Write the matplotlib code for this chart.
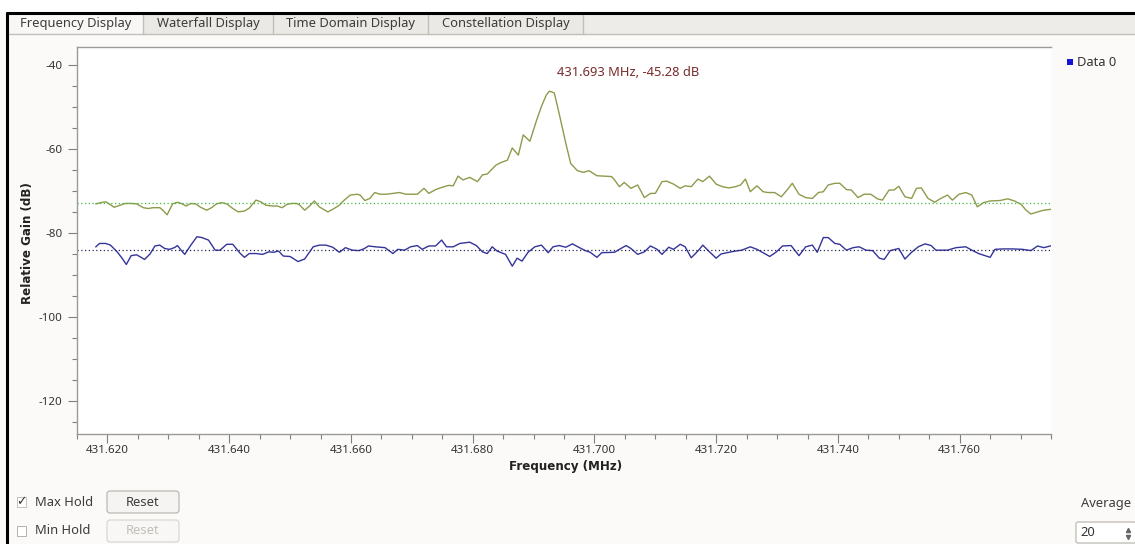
import numpy as np
import matplotlib.pyplot as plt
from matplotlib.patches import Rectangle, FancyBboxPatch

plt.rcParams['font.family'] = ['Noto Sans', 'DejaVu Sans']
plt.rcParams['axes.unicode_minus'] = False

# ---- data ----
tab_names = ['Frequency Display', 'Waterfall Display', 'Time Domain Display', 'Constellation Display']

# max hold trace (MHz, dB)
maxhold_freq = [431.6181, 431.6189, 431.6197, 431.6203, 431.6211, 431.6219, 431.6229, 431.6240,
                431.6248, 431.6259, 431.6267, 431.6275, 431.6286, 431.6291, 431.6298, 431.6307,
                431.6315, 431.6323, 431.6329, 431.6337, 431.6345, 431.6353, 431.6363, 431.6371,
                431.6379, 431.6388, 431.6396, 431.6406, 431.6415, 431.6425, 431.6433, 431.6444,
                431.6452, 431.6460, 431.6471, 431.6479, 431.6487, 431.6495, 431.6503, 431.6511,
                431.6516, 431.6524, 431.6532, 431.6540, 431.6548, 431.6562, 431.6570, 431.6581,
                431.6589, 431.6599, 431.6610, 431.6615, 431.6623, 431.6631, 431.6639, 431.6648,
                431.6658, 431.6669, 431.6680, 431.6690, 431.6701, 431.6709, 431.6720, 431.6728,
                431.6739, 431.6749, 431.6760, 431.6768, 431.6776, 431.6784, 431.6795, 431.6808,
                431.6816, 431.6824, 431.6838, 431.6846, 431.6857, 431.6865, 431.6875, 431.6883,
                431.6894, 431.6905, 431.6913, 431.6921, 431.6926, 431.6934, 431.6942,
                431.6953, 431.6961, 431.6972, 431.6982, 431.6991, 431.7004, 431.7015, 431.7028,
                431.7033, 431.7041, 431.7049, 431.7060, 431.7071, 431.7082, 431.7092, 431.7100,
                431.7111, 431.7119, 431.7130, 431.7141, 431.7149, 431.7159, 431.7170, 431.7178,
                431.7189, 431.7200, 431.7210, 431.7221, 431.7232, 431.7240, 431.7248, 431.7256,
                431.7267, 431.7277, 431.7285, 431.7296, 431.7307, 431.7317, 431.7325, 431.7336,
                431.7347, 431.7358, 431.7368, 431.7376, 431.7384, 431.7395, 431.7403, 431.7414,
                431.7422, 431.7433, 431.7443, 431.7454, 431.7465, 431.7473, 431.7484, 431.7492,
                431.7500, 431.7510, 431.7521, 431.7529, 431.7537, 431.7548, 431.7559, 431.7569,
                431.7580, 431.7588, 431.7599, 431.7610, 431.7620, 431.7629, 431.7639, 431.7650,
                431.7666, 431.7679, 431.7690, 431.7701, 431.7709, 431.7717, 431.7728, 431.7738,
                431.7749]
maxhold_db = [-73.1, -72.8, -72.6, -73.1, -73.9, -73.5, -73.0, -73.0,
              -73.1, -74.0, -74.2, -74.0, -74.0, -74.6, -75.7, -73.1,
              -72.7, -73.1, -73.6, -73.0, -73.1, -73.9, -74.6, -74.0,
              -73.1, -72.8, -73.1, -74.2, -75.0, -74.8, -74.1, -72.2,
              -72.6, -73.4, -73.6, -73.6, -74.0, -73.2, -73.0, -73.0,
              -73.4, -74.6, -73.6, -72.4, -73.8, -75.0, -74.4, -73.4,
              -72.2, -71.0, -70.8, -71.0, -72.3, -71.8, -70.4, -70.8,
              -70.8, -70.6, -70.4, -70.8, -70.8, -70.8, -69.4, -70.6,
              -69.7, -69.2, -68.7, -68.8, -66.5, -67.4, -66.8, -67.8,
              -66.2, -66.0, -63.9, -63.3, -62.7, -59.8, -61.5, -56.7,
              -58.2, -53.2, -49.9, -47.2, -46.3, -46.7, -51.6,
              -58.7, -63.5, -65.2, -65.6, -65.2, -66.4, -66.5, -66.6,
              -67.4, -69.0, -68.0, -69.4, -68.6, -71.6, -70.6, -70.6,
              -67.8, -67.7, -68.4, -69.4, -68.8, -69.0, -67.2, -67.8,
              -66.5, -68.4, -69.0, -69.3, -69.0, -68.6, -67.2, -70.2,
              -68.8, -70.2, -70.4, -70.4, -71.4, -69.7, -68.2, -70.8,
              -71.6, -71.8, -70.4, -70.2, -68.6, -68.2, -68.2, -69.7,
              -69.8, -71.6, -70.8, -70.8, -71.9, -72.2, -69.8, -69.8,
              -68.9, -71.4, -71.8, -69.4, -69.3, -71.8, -72.7, -71.8,
              -71.0, -72.2, -70.8, -70.4, -71.0, -73.8, -72.8, -72.4,
              -72.3, -71.9, -72.4, -73.2, -74.6, -75.5, -75.0, -74.6,
              -74.4]

# live trace "Data 0" (MHz, dB)
data0_freq = [431.6181, 431.6187, 431.6197, 431.6205, 431.6216, 431.6224, 431.6231, 431.6239,
              431.6248, 431.6261, 431.6270, 431.6278, 431.6286, 431.6294, 431.6302, 431.6310,
              431.6315, 431.6321, 431.6327, 431.6337, 431.6347, 431.6355, 431.6366, 431.6377,
              431.6385, 431.6396, 431.6406, 431.6417, 431.6425, 431.6433, 431.6444, 431.6455,
              431.6465, 431.6473, 431.6481, 431.6489, 431.6500, 431.6513, 431.6524, 431.6538,
              431.6548, 431.6559, 431.6570, 431.6581, 431.6591, 431.6602, 431.6613, 431.6621,
              431.6629, 431.6640, 431.6656, 431.6669, 431.6677, 431.6688, 431.6698, 431.6709,
              431.6717, 431.6728, 431.6739, 431.6749, 431.6757, 431.6768, 431.6779, 431.6795,
              431.6806, 431.6816, 431.6824, 431.6832, 431.6840, 431.6854, 431.6865, 431.6873,
              431.6881, 431.6891, 431.6902, 431.6913, 431.6924, 431.6932, 431.6942,
              431.6953, 431.6964, 431.6974, 431.6985, 431.6993, 431.7004, 431.7012, 431.7033,
              431.7041, 431.7052, 431.7060, 431.7071, 431.7082, 431.7092, 431.7103, 431.7111,
              431.7122, 431.7130, 431.7141, 431.7149, 431.7159, 431.7170, 431.7178, 431.7189,
              431.7200, 431.7208, 431.7221, 431.7232, 431.7242, 431.7256, 431.7267, 431.7277,
              431.7288, 431.7299, 431.7309, 431.7323, 431.7336, 431.7347, 431.7358, 431.7366,
              431.7376, 431.7384, 431.7395, 431.7403, 431.7414, 431.7425, 431.7435, 431.7446,
              431.7457, 431.7468, 431.7476, 431.7486, 431.7500, 431.7510, 431.7521, 431.7532,
              431.7543, 431.7553, 431.7561, 431.7580, 431.7594, 431.7610, 431.7620, 431.7631,
              431.7650, 431.7658, 431.7671, 431.7687, 431.7703, 431.7717, 431.7728, 431.7738,
              431.7749]
data0_db = [-83.3, -82.5, -82.5, -82.9, -84.5, -86.0, -87.5, -85.4,
            -85.2, -86.3, -85.0, -83.1, -82.9, -83.7, -83.9, -83.5,
            -83.0, -84.1, -85.1, -82.9, -80.9, -81.1, -81.7, -84.1,
            -84.1, -82.7, -82.7, -84.7, -85.8, -84.9, -84.9, -85.1,
            -84.5, -84.6, -84.3, -85.5, -85.6, -86.8, -86.2, -83.3,
            -82.9, -82.9, -83.4, -84.6, -83.5, -84.1, -84.2, -83.8,
            -83.1, -83.3, -83.5, -84.9, -83.9, -84.1, -83.3, -83.0,
            -83.9, -83.1, -83.1, -81.7, -83.3, -83.3, -82.5, -82.2,
            -83.0, -84.5, -84.9, -83.3, -84.3, -85.1, -87.9, -86.0,
            -86.7, -84.6, -83.3, -82.9, -84.7, -83.3, -83.0,
            -83.4, -82.6, -83.4, -84.2, -84.6, -85.8, -84.7, -84.6,
            -83.9, -83.0, -83.7, -85.1, -84.5, -83.1, -83.9, -85.1,
            -83.4, -83.9, -82.7, -83.3, -85.9, -84.3, -82.9, -84.5,
            -86.0, -85.0, -84.6, -84.3, -84.1, -83.3, -83.9, -84.7,
            -85.6, -84.5, -83.1, -83.0, -85.4, -83.3, -82.9, -84.6,
            -81.1, -81.1, -82.5, -82.7, -84.1, -83.5, -83.3, -84.1,
            -84.2, -86.0, -86.3, -84.2, -83.7, -86.2, -84.6, -83.3,
            -82.6, -83.0, -84.1, -84.1, -83.5, -83.3, -84.1, -84.9,
            -85.8, -83.9, -83.8, -83.8, -83.9, -84.2, -83.1, -83.5,
            -83.1]

maxhold_level = -73.0   # dotted green line
data0_level = -84.1     # dotted dark line
peak_freq = 431.693
peak_gain = -45.28

x_ticks = [431.620, 431.640, 431.660, 431.680, 431.700, 431.720, 431.740, 431.760]
y_ticks = [-120, -100, -80, -60, -40]

UI = 9.3   # size of the widget texts

W, H = 1135, 544
fig = plt.figure(figsize=(W / 100, H / 100), dpi=100)
fig.patch.set_facecolor('#fbfaf8')

# overlay in pixel units for the window chrome
bg = fig.add_axes([0, 0, 1, 1], zorder=0)
bg.set_xlim(0, W)
bg.set_ylim(H, 0)
bg.axis('off')

bg.add_patch(Rectangle((0, 0), W, 12, facecolor='white', edgecolor='none'))

# tab bar
bg.add_patch(Rectangle((7, 13), W - 7, 21, facecolor='#eeece9', edgecolor='none'))
bg.plot([7, W], [34, 34], color='#c2beb9', lw=1)
tab_edges = [8, 143, 273, 428, 583]
for i, name in enumerate(tab_names):
    x0, x1 = tab_edges[i], tab_edges[i + 1]
    fc = '#f8f7f5' if i == 0 else '#ebe9e6'
    bg.add_patch(Rectangle((x0, 14), x1 - x0, 21 if i == 0 else 20,
                           facecolor=fc, edgecolor='none'))
    bg.plot([x1, x1], [14, 34], color='#c2beb9', lw=1)
    bg.text((x0 + x1) / 2, 24, name, ha='center', va='center', fontsize=UI, color='#3c3c3c')

# black window border
bg.plot([6, W], [13, 13], color='black', lw=2.2, solid_capstyle='butt')
bg.plot([7, 7], [12, H], color='black', lw=2.2, solid_capstyle='butt')

# legend
bg.add_patch(Rectangle((1067, 59), 6, 6, facecolor='#1414d2', edgecolor='none'))
bg.text(1077, 62, 'Data 0', ha='left', va='center', fontsize=UI, color='#333333')

# bottom controls
bg.add_patch(Rectangle((16.5, 497), 9, 10, facecolor='white', edgecolor='#c4c0bb', lw=0.7))
bg.text(21, 502, '\u2713', ha='center', va='center', fontsize=9, color='#333333',
        family=['DejaVu Sans'])
bg.text(35, 502.5, 'Max Hold', ha='left', va='center', fontsize=UI, color='#3c3c3c')
bg.add_patch(FancyBboxPatch((107, 491), 72, 22, boxstyle='round,pad=0,rounding_size=3',
                            facecolor='#f5f4f2', edgecolor='#b5b1ab', lw=0.8))
bg.text(143, 502.5, 'Reset', ha='center', va='center', fontsize=UI, color='#3c3c3c')

bg.add_patch(Rectangle((16.5, 526), 9, 10, facecolor='white', edgecolor='#b4b0ab', lw=0.7))
bg.text(35, 531, 'Min Hold', ha='left', va='center', fontsize=UI, color='#3c3c3c')
bg.add_patch(FancyBboxPatch((107, 520), 72, 22, boxstyle='round,pad=0,rounding_size=3',
                            facecolor='#f8f7f5', edgecolor='#d6d3ce', lw=0.8))
bg.text(143, 531, 'Reset', ha='center', va='center', fontsize=UI, color='#c2bfba')

bg.text(1131, 503, 'Average', ha='right', va='center', fontsize=UI, color='#3c3c3c')
bg.add_patch(FancyBboxPatch((1076, 522), 60, 21, boxstyle='round,pad=0,rounding_size=2',
                            facecolor='white', edgecolor='#b5b1ab', lw=0.8))
bg.text(1080, 533, '20', ha='left', va='center', fontsize=UI, color='#333333')
bg.plot([1128], [529.5], marker='^', ms=3, color='#666666', ls='none')
bg.plot([1128], [536.5], marker='v', ms=3, color='#666666', ls='none')

# ---- the plot itself ----
left, right, top, bottom = 77, 1051, 47, 434
ax = fig.add_axes([left / W, (H - bottom) / H, (right - left) / W, (bottom - top) / H], zorder=1)
ax.set_facecolor('white')

ax.plot(maxhold_freq, maxhold_db, color='#8e9a4c', lw=1.0)
ax.plot(data0_freq, data0_db, color='#34349a', lw=1.0)
ax.axhline(maxhold_level, color='#3dbd3d', lw=0.9, ls=(0, (1, 2)))
ax.axhline(data0_level, color='#26265a', lw=0.9, ls=(0, (1, 2)))

ax.annotate(f'{peak_freq:.3f} MHz, {peak_gain:.2f} dB', xy=(peak_freq, peak_gain),
            xytext=(5, 14), textcoords='offset pixels', ha='left', va='center',
            fontsize=UI, color='#7a2b2b')

ax.set_xlim(431.6181, 431.7748)
ax.set_ylim(-127.8, -35.8)
ax.set_xticks(x_ticks)
ax.set_xticklabels([f'{v:.3f}' for v in x_ticks])
ax.set_yticks(y_ticks)
ax.set_xticks(np.arange(431.615, 431.776, 0.005), minor=True)
ax.set_yticks(np.arange(-125, -35, 5), minor=True)

ax.tick_params(which='major', direction='out', length=6.5, width=0.8, color='#808080',
               labelsize=8.3, labelcolor='#333333')
ax.tick_params(axis='y', which='major', pad=4)
ax.tick_params(axis='x', which='major', pad=1.5)
ax.tick_params(which='minor', direction='out', length=3.5, width=0.8, color='#808080')

for side in ['right']:
    ax.spines[side].set_visible(False)
for side in ['left', 'bottom', 'top']:
    ax.spines[side].set_color('#9a9a9a')
    ax.spines[side].set_linewidth(1.0)

bold = dict(fontsize=8.6, fontweight='bold', color='#222222', family=['DejaVu Sans'])
ax.set_xlabel('Frequency (MHz)', **bold)
ax.set_ylabel('Relative Gain (dB)', **bold)
ax.xaxis.set_label_coords((566 - left) / (right - left), -(460 - bottom) / (bottom - top))
ax.yaxis.set_label_coords(-(left - 34) / (right - left), (bottom - 243) / (bottom - top))

fig.savefig('out.png', dpi=100, facecolor=fig.get_facecolor())
